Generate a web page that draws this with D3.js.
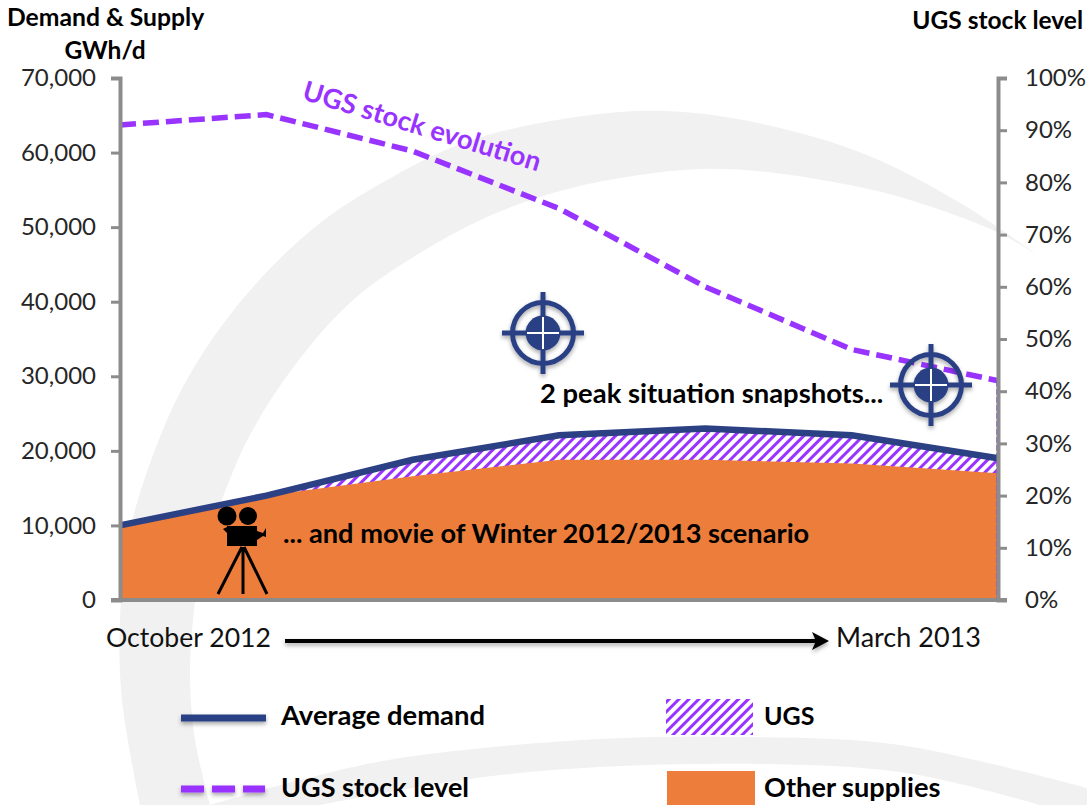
<!DOCTYPE html>
<html>
<head>
<meta charset="utf-8">
<script src="https://cdn.jsdelivr.net/npm/d3@7"></script>
<style>
  html, body { margin: 0; padding: 0; background: #fff; }
  svg { display: block; }
  text { font-family: Lato, "Open Sans", sans-serif; }
</style>
</head>
<body>
<script>
var periods = ["P1", "P2", "P3", "P4", "P5", "P6", "P7"];
var demand = [10000, 14000, 18800, 22100, 23000, 22100, 19000];
var otherSupplies = [10000, 14000, 16600, 18800, 18800, 18300, 17000];
var stockLevel = [91, 93, 86, 75, 60, 48, 42];
var demandTicks = [0, 10000, 20000, 30000, 40000, 50000, 60000, 70000];
var stockTicks = [0, 10, 20, 30, 40, 50, 60, 70, 80, 90, 100];

var svg = d3.select("body").append("svg")
      .attr("width", 1087)
      .attr("height", 805),
    margin = {top: 78, right: 89, bottom: 205, left: 120},
    width = +svg.attr("width") - margin.left - margin.right,
    height = +svg.attr("height") - margin.top - margin.bottom,
    blue = "#2c4084",
    purple = "#9933ff",
    orange = "#ed7d3a",
    axisGrey = "#8c8c8c";

var defs = svg.append("defs");

var hatch = defs.append("pattern")
    .attr("id", "hatch")
    .attr("patternUnits", "userSpaceOnUse")
    .attr("width", 7)
    .attr("height", 7)
    .attr("patternTransform", "rotate(45)");
hatch.append("rect").attr("width", 7).attr("height", 7).attr("fill", "#fff");
hatch.append("rect").attr("width", 3).attr("height", 7).attr("fill", purple);

// user space units, a flat line has an empty bounding box
defs.append("filter")
    .attr("id", "shadow")
    .attr("filterUnits", "userSpaceOnUse")
    .attr("x", -1100).attr("y", -900)
    .attr("width", 2200).attr("height", 1800)
  .append("feDropShadow")
    .attr("dx", 0).attr("dy", 2.5)
    .attr("stdDeviation", 2)
    .attr("flood-color", "#000")
    .attr("flood-opacity", 0.35);

// background swoosh
var swoosh = d3.line().curve(d3.curveCatmullRom.alpha(0.5));
var bigOuter = [[140, 805], [122, 700], [120, 620], [130, 530], [167, 420], [203, 353], [253, 287],
  [320, 223], [387, 180], [453, 147], [520, 127], [620, 112], [683, 112], [767, 125], [867, 155],
  [967, 207], [1037, 255]];
var bigInner = [[1037, 255], [997, 232], [900, 197], [833, 182], [767, 172], [700, 169], [620, 178],
  [553, 193], [487, 217], [420, 253], [353, 300], [295, 365], [250, 435], [220, 505], [200, 570],
  [193, 620], [190, 680], [195, 740], [210, 805]];
var lowTop = [[210, 805], [300, 780], [400, 758], [600, 739], [750, 737], [900, 745], [1087, 788]];
var lowBottom = [[1040, 805], [900, 772], [700, 764], [500, 775], [320, 805]];
svg.append("path")
    .attr("d", swoosh(bigOuter) + "L" + swoosh(bigInner).slice(1) + "Z")
    .attr("fill", "#f1f1f1");
svg.append("path")
    .attr("d", swoosh(lowTop) + "L1087,805L" + swoosh(lowBottom).slice(1) + "Z")
    .attr("fill", "#f1f1f1");

var g = svg.append("g").attr("transform", "translate(" + margin.left + "," + margin.top + ")");

var x = d3.scalePoint().domain(periods).range([0, width]);
var y = d3.scaleLinear().domain([0, 70000]).range([height, 0]);
var yStock = d3.scaleLinear().domain([0, 100]).range([height, 0]);

var area = d3.area()
    .x(function(d, i) { return x(periods[i]); })
    .y0(height)
    .y1(function(d) { return y(d); });

g.append("path").datum(demand).attr("fill", "url(#hatch)").attr("d", area);
g.append("path").datum(otherSupplies).attr("fill", orange).attr("d", area);

// thin purple edges of the UGS area
g.append("line")
    .attr("x1", x(periods[0]) + 1).attr("x2", x(periods[0]) + 1)
    .attr("y1", yStock(stockLevel[0])).attr("y2", height)
    .attr("stroke", purple).attr("stroke-width", 1).attr("stroke-opacity", 0.4);
g.append("line")
    .attr("x1", x(periods[6]) - 1).attr("x2", x(periods[6]) - 1)
    .attr("y1", yStock(stockLevel[6])).attr("y2", height)
    .attr("stroke", purple).attr("stroke-width", 1.5).attr("stroke-dasharray", "6,2");

var line = d3.line().x(function(d, i) { return x(periods[i]); });

g.append("path").datum(demand)
    .attr("fill", "none").attr("stroke", blue).attr("stroke-width", 6.5)
    .attr("d", line.y(function(d) { return y(d); }));

g.append("path").datum(stockLevel)
    .attr("fill", "none").attr("stroke", purple).attr("stroke-width", 5.5)
    .attr("stroke-dasharray", "16,7")
    .attr("d", line.y(function(d) { return yStock(d); }));

function styleAxis(sel) {
  sel.select(".domain").attr("stroke", axisGrey).attr("stroke-width", 4);
  sel.selectAll(".tick line").attr("stroke", axisGrey).attr("stroke-width", 3);
  sel.selectAll(".tick text").attr("fill", "#262626").attr("font-size", 24);
}

g.append("g")
    .call(d3.axisLeft(y).tickValues(demandTicks).tickFormat(d3.format(",")).tickSize(9).tickSizeOuter(9).tickPadding(15))
    .call(styleAxis);

g.append("g")
    .attr("transform", "translate(" + width + ",0)")
    .call(d3.axisRight(yStock).tickValues(stockTicks).tickFormat(function(d) { return d + "%"; }).tickSize(9).tickSizeOuter(9).tickPadding(18))
    .call(styleAxis);

g.append("line")
    .attr("x1", -9).attr("x2", width + 9)
    .attr("y1", height).attr("y2", height)
    .attr("stroke", axisGrey).attr("stroke-width", 4);

function label(px, py, str, size, weight, anchor, fill) {
  return svg.append("text")
      .attr("x", px).attr("y", py)
      .attr("font-size", size)
      .attr("font-weight", weight)
      .attr("text-anchor", anchor || "start")
      .attr("fill", fill || "#000")
      .text(str);
}

label(7, 26, "Demand & Supply", 24.7, 700);
label(105, 59, "GWh/d", 24.5, 700, "middle");
label(1083, 29, "UGS stock level", 24.5, 700, "end");

label(106, 647, "October 2012", 26.6, 400, "start", "#111");
label(836, 647, "March 2013", 27, 400, "start", "#111");

label(0, 0, "UGS stock evolution", 27.2, 700, "start", purple)
    .attr("transform", "translate(301,99) rotate(17)");
label(540, 403, "2 peak situation snapshots...", 27.4, 700);
label(283, 543, "... and movie of Winter 2012/2013 scenario", 27.2, 700);

// time arrow
var arrow = svg.append("g").attr("filter", "url(#shadow)");
arrow.append("line")
    .attr("x1", 285).attr("x2", 820)
    .attr("y1", 641).attr("y2", 641)
    .attr("stroke", "#000").attr("stroke-width", 4);
arrow.append("path").attr("d", "M829,641L812,632L816,641L812,650Z").attr("fill", "#000");

function target(cx, cy) {
  var t = svg.append("g")
      .attr("transform", "translate(" + cx + "," + cy + ")")
      .attr("filter", "url(#shadow)");
  t.append("circle").attr("r", 30.5).attr("fill", "none").attr("stroke", blue).attr("stroke-width", 5);
  t.append("circle").attr("r", 17.5).attr("fill", blue);
  t.append("line").attr("x1", -41).attr("x2", 41).attr("stroke", blue).attr("stroke-width", 5);
  t.append("line").attr("y1", -41).attr("y2", 41).attr("stroke", blue).attr("stroke-width", 5);
  t.append("line").attr("x1", -16).attr("x2", 16).attr("stroke", "#fff").attr("stroke-width", 2);
  t.append("line").attr("y1", -16).attr("y2", 16).attr("stroke", "#fff").attr("stroke-width", 2);
}
target(543, 333);
target(931, 385);

// movie camera
var cam = svg.append("g").attr("fill", "#000").attr("stroke", "none");
cam.append("circle").attr("cx", 227).attr("cy", 516).attr("r", 9.5);
cam.append("circle").attr("cx", 248).attr("cy", 516).attr("r", 9);
cam.append("rect").attr("x", 227).attr("y", 526).attr("width", 30).attr("height", 20);
cam.append("path").attr("d", "M257,531L263,533L266,528V537L263,536L257,540Z");
cam.append("path").attr("d", "M223,529L227,527V533Z");
cam.append("path")
    .attr("d", "M242,547L218,594M243,547V594M244,547L267,594")
    .attr("fill", "none").attr("stroke", "#000").attr("stroke-width", 3);

// legend
svg.append("line")
    .attr("x1", 181).attr("x2", 266).attr("y1", 718).attr("y2", 718)
    .attr("stroke", blue).attr("stroke-width", 7).attr("filter", "url(#shadow)");
svg.append("line")
    .attr("x1", 181).attr("x2", 265).attr("y1", 789).attr("y2", 789)
    .attr("stroke", purple).attr("stroke-width", 7)
    .attr("stroke-dasharray", "23,8").attr("filter", "url(#shadow)");
svg.append("rect").attr("x", 666).attr("y", 699).attr("width", 87).attr("height", 36).attr("fill", "url(#hatch)");
svg.append("rect").attr("x", 667).attr("y", 771).attr("width", 88).attr("height", 34).attr("fill", orange);

label(281, 725, "Average demand", 27.4, 700);
label(281, 797, "UGS stock level", 27, 700);
label(764, 725, "UGS", 25, 700);
label(764, 797, "Other supplies", 27.2, 700);
</script>
</body>
</html>
